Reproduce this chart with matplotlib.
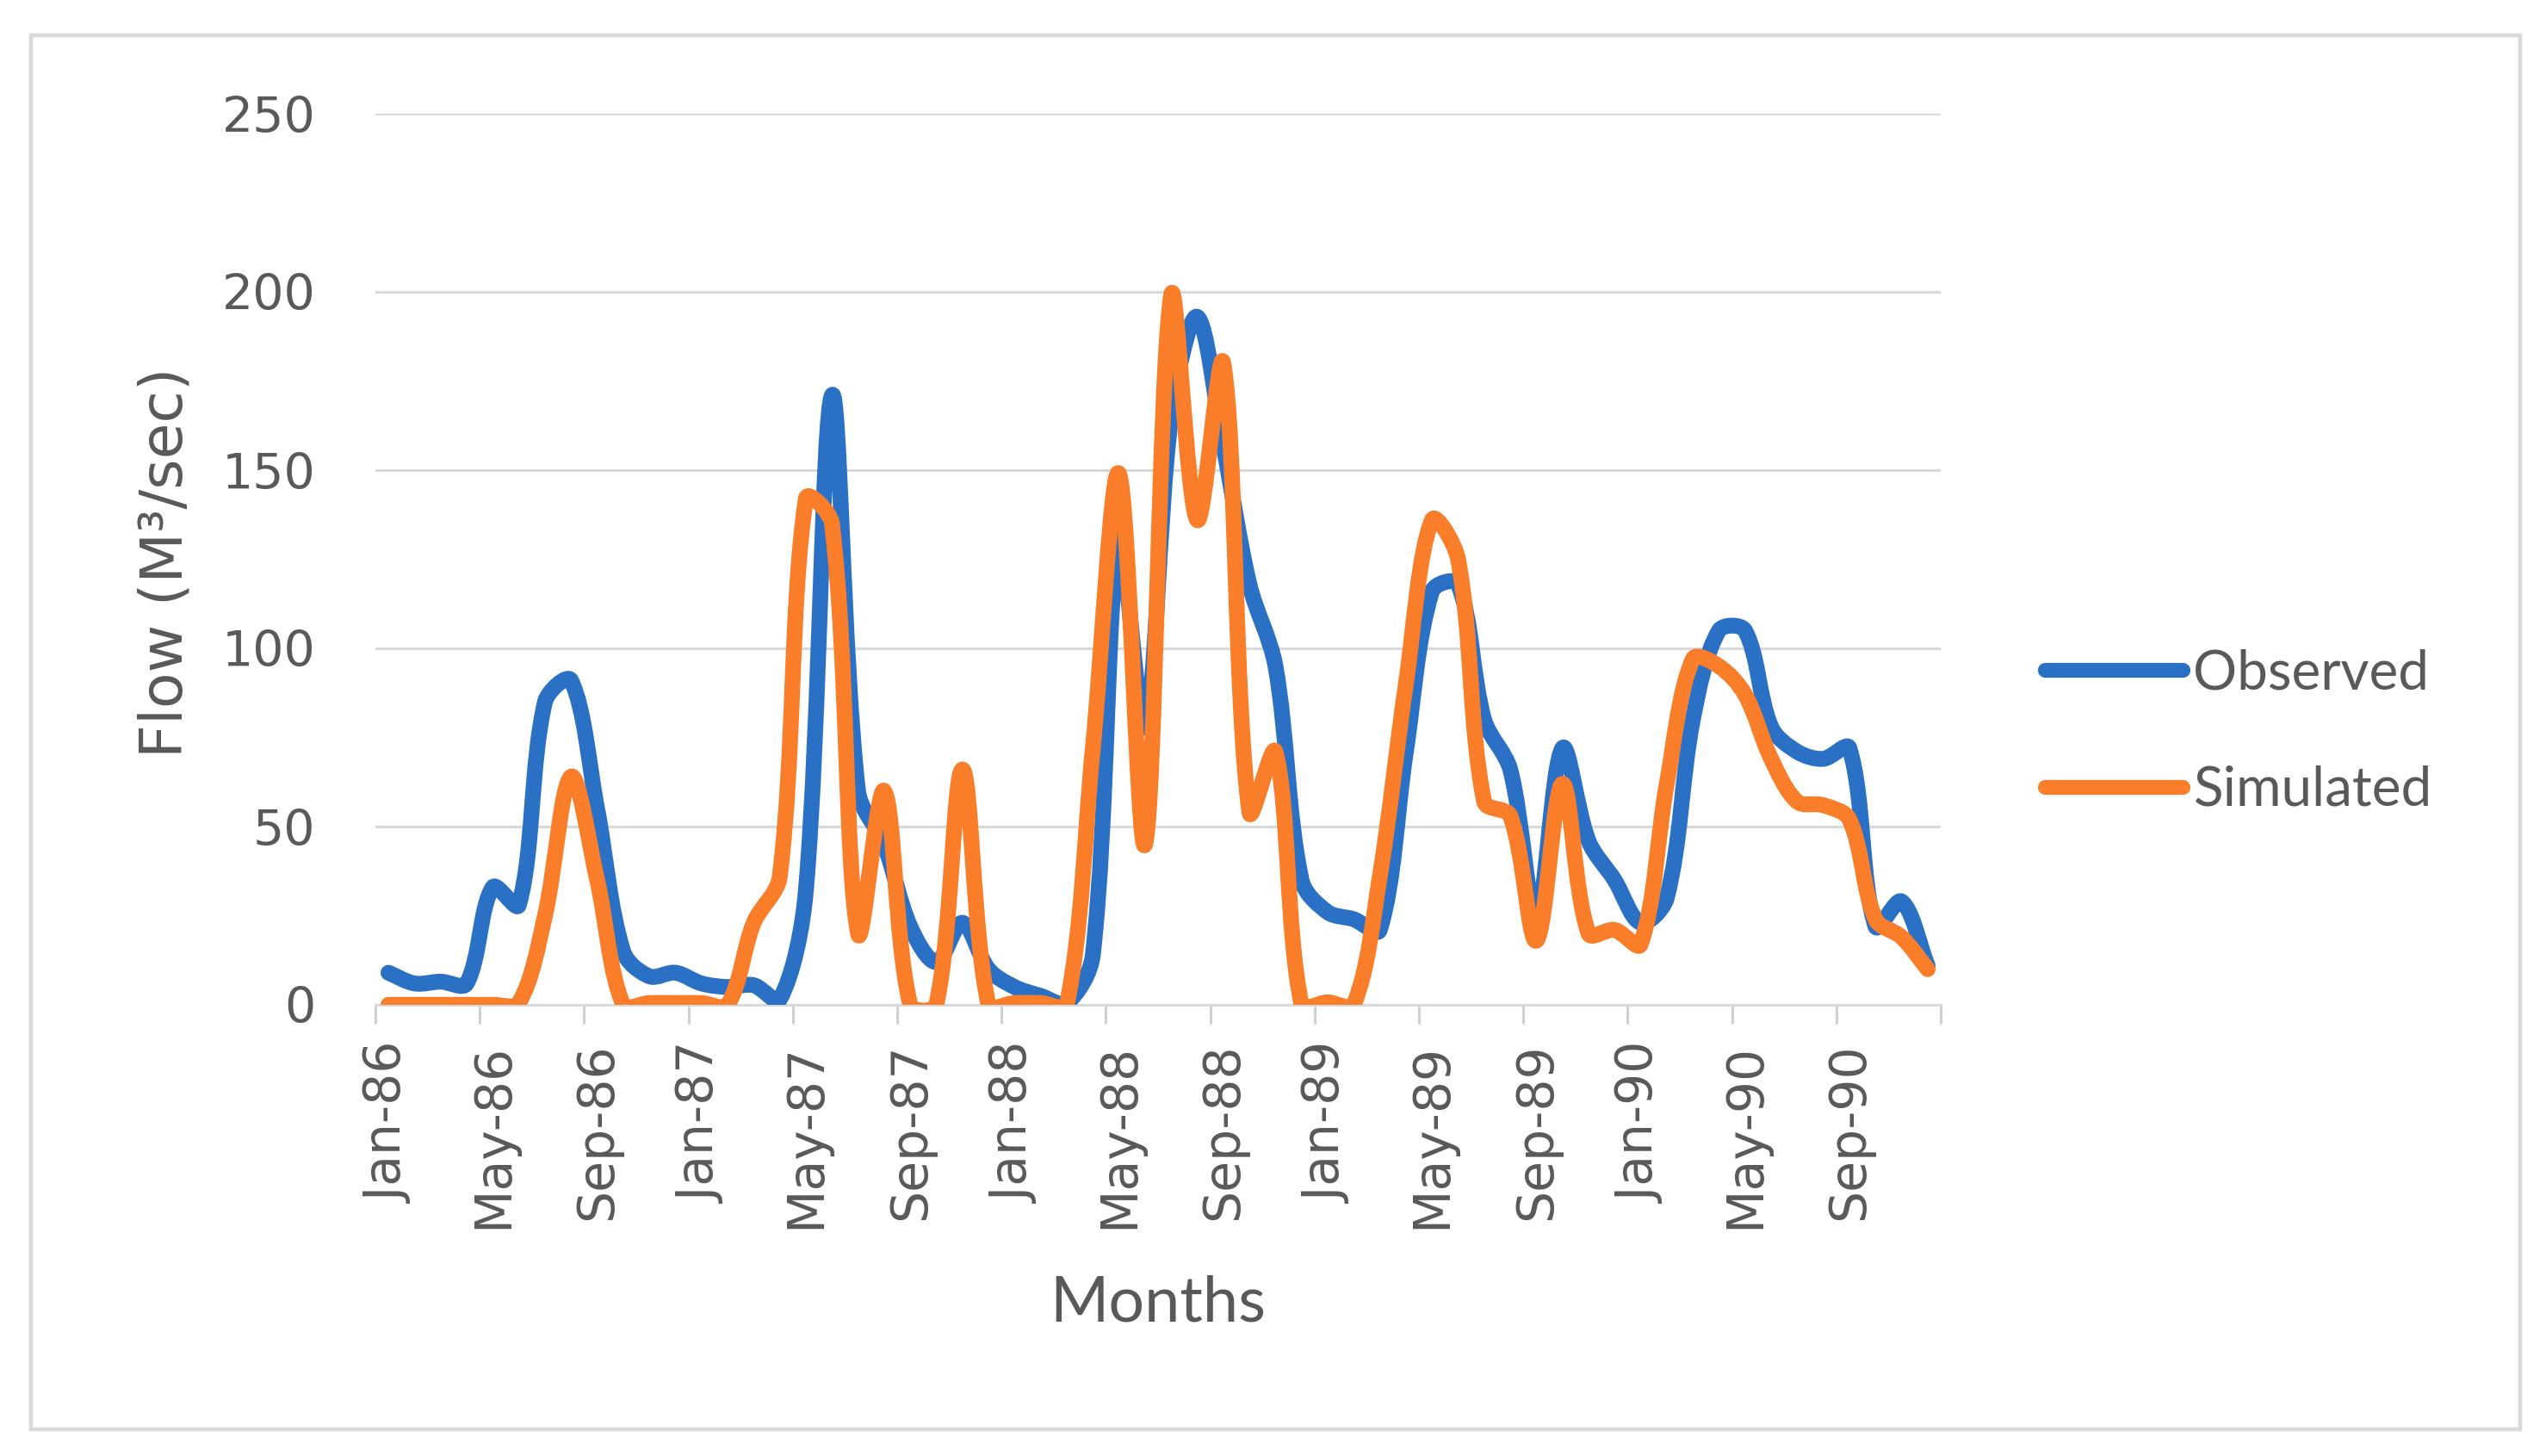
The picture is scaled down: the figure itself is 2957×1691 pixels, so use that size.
import numpy as np
import matplotlib
matplotlib.use("Agg")
import matplotlib.pyplot as plt
from matplotlib.path import Path
from matplotlib.patches import PathPatch, Rectangle
from matplotlib.lines import Line2D

# ---------------- data ----------------
month_names = ["Jan", "Feb", "Mar", "Apr", "May", "Jun",
               "Jul", "Aug", "Sep", "Oct", "Nov", "Dec"]
years = ["86", "87", "88", "89", "90"]
categories = [f"{m}-{y}" for y in years for m in month_names]

observed = [9, 6, 6.5, 6, 33, 28, 85, 91, 55, 15, 8, 9,
            6, 5, 5.5, 1.5, 32, 171, 60, 45, 22, 12, 23, 10,
            5, 2.5, 0.5, 14, 130, 78, 165, 193, 157, 118, 95, 35,
            26, 24, 21, 71, 116, 118, 80, 66, 25, 72, 46, 35,
            23, 30, 80, 105, 105, 78, 71, 69, 72, 22, 29, 11]

simulated = [0, 0, 0, 0, 0, 0.5, 25, 64, 35, 0, 0.5, 0.5,
             0.5, 0, 23, 36, 142, 135, 20, 60, 0, 0, 66, 0,
             0.5, 0.5, 0, 72, 149, 45, 199, 136, 180, 54, 71, 0,
             0.7, 0, 36, 90, 136, 125, 57, 53, 18, 62, 20, 21,
             17, 62, 97, 95, 87, 69, 57, 56, 52, 24, 19, 10]

series_names = ["Observed", "Simulated"]
colors = ["#2a70c4", "#fa7d2a"]

# ---------------- figure ----------------
W, H, DPI = 2957, 1691, 200
fig = plt.figure(figsize=(W / DPI, H / DPI), dpi=DPI)
fig.patch.set_facecolor("white")

grey_txt = "#595959"
grid_c = "#d9d9d9"

ax = fig.add_axes([436 / W, 1 - 1167 / H, (2254 - 436) / W, (1167 - 132) / H])
ax.set_xlim(-0.5, len(categories) - 0.5)
ax.set_ylim(0, 250)


def smooth_path(xs, ys, trans):
    """Excel-style smoothed line: cubic Bezier segments whose control
    points are computed in screen space, weighted by segment lengths."""
    pts = trans.transform(np.column_stack([xs, ys]).astype(float))
    n = len(pts)
    verts = [pts[0]]
    codes = [Path.MOVETO]
    for i in range(n - 1):
        p0 = pts[i - 1] if i > 0 else pts[i]
        p1 = pts[i]
        p2 = pts[i + 1]
        p3 = pts[i + 2] if i + 2 < n else pts[i + 1]
        d01 = np.hypot(*(p1 - p0))
        d12 = np.hypot(*(p2 - p1))
        d23 = np.hypot(*(p3 - p2))
        f1 = d12 / (d01 + d12) if (d01 + d12) > 0 else 0.0
        f2 = d12 / (d12 + d23) if (d12 + d23) > 0 else 0.0
        c1 = p1 + (p2 - p0) * f1 / 3.0
        c2 = p2 - (p3 - p1) * f2 / 3.0
        verts += [c1, c2, p2]
        codes += [Path.CURVE4] * 3
    verts = trans.inverted().transform(np.array(verts))
    return Path(verts, codes)


x = np.arange(len(categories))
for vals, col in zip([observed, simulated], colors):
    patch = PathPatch(smooth_path(x, vals, ax.transData), facecolor="none",
                      edgecolor=col, lw=6.6, capstyle="round",
                      joinstyle="round", zorder=3)
    ax.add_patch(patch)

# grid / spines
ax.set_yticks(np.arange(0, 251, 50))
ax.yaxis.grid(True, color=grid_c, lw=1.1)
ax.set_axisbelow(True)
for s in ["top", "right", "left"]:
    ax.spines[s].set_visible(False)
ax.spines["bottom"].set_color(grid_c)
ax.spines["bottom"].set_linewidth(1.1)

ax.tick_params(axis="y", length=0, pad=25, labelsize=20.5, labelcolor=grey_txt)
for lab in ax.get_yticklabels():
    lab.set_fontfamily("DejaVu Sans")

ax.set_xticks(x[::4])
ax.set_xticklabels(categories[::4], rotation=90, fontsize=21,
                   color=grey_txt, fontfamily="DejaVu Sans")
ax.tick_params(axis="x", which="major", length=0, pad=16)
ax.set_xticks(np.arange(-0.5, len(categories), 4), minor=True)
ax.tick_params(axis="x", which="minor", length=7.8, width=1.1, color="#d0d0d0",
               direction="out")

# axis titles
fig.text(192 / W, 1 - 653 / H, "Flow (M³/sec)", rotation=90, ha="center",
         va="center", fontsize=24.5, color=grey_txt, fontfamily="DejaVu Sans")
fig.text(1345 / W, 1 - 1514 / H, "Months", ha="center", va="center",
         fontsize=26.5, color=grey_txt, fontfamily="Lato")

# legend
handles = [Line2D([], [], color=c, lw=6.2, solid_capstyle="round")
           for c in colors]
leg = fig.legend(handles, series_names, loc="center left",
                 bbox_to_anchor=(2375 / W, 1 - 850 / H), frameon=False,
                 borderpad=0, borderaxespad=0, handlelength=2.5,
                 handletextpad=0.2, labelspacing=1.22,
                 prop={"family": "Lato", "size": 23})
for t in leg.get_texts():
    t.set_color(grey_txt)

# outer frame
fig.patches.append(Rectangle((36 / W, 1 - 1660 / H), (2927 - 36) / W,
                             (1660 - 41) / H, transform=fig.transFigure,
                             fill=False, ec=grid_c, lw=1.6))

fig.savefig("out.png", dpi=DPI)
